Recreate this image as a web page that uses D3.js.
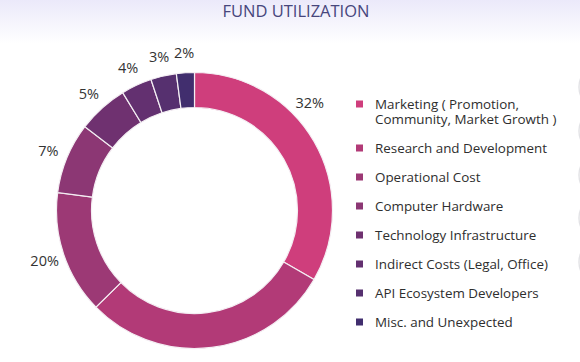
<!DOCTYPE html>
<html>
<head>
<meta charset="utf-8">
<script src="https://cdn.jsdelivr.net/npm/d3@7"></script>
<style>
  html, body { margin: 0; padding: 0; background: #fff; }
  svg { display: block; }
</style>
</head>
<body>
<svg id="chart" width="580" height="362"></svg>
<script>
// ---- data ----
const categories = [
  "Marketing ( Promotion, Community, Market Growth )",
  "Research and Development",
  "Operational Cost",
  "Computer Hardware",
  "Technology Infrastructure",
  "Indirect Costs (Legal, Office)",
  "API Ecosystem Developers",
  "Misc. and Unexpected"
];
// arc shares as drawn in the picture
const values = [33.3, 29.3, 14.4, 8.3, 5.9, 3.6, 3.0, 2.1];
// percentage labels as printed
const pctLabels = ["32%", "27%", "20%", "7%", "5%", "4%", "3%", "2%"];
const colors = ["#cf3e7c", "#b23a77", "#9c3975", "#8c3774", "#6f3170", "#633070", "#56306f", "#412e6e"];
const legendLines = [
  ["Marketing ( Promotion,", "Community, Market Growth )"],
  ["Research and Development"],
  ["Operational Cost"],
  ["Computer Hardware"],
  ["Technology Infrastructure"],
  ["Indirect Costs (Legal, Office)"],
  ["API Ecosystem Developers"],
  ["Misc. and Unexpected"]
];
const title = "FUND UTILIZATION";

// ---- layout ----
const W = 580, H = 362;
const cx = 194.5, cy = 210.5, rOuter = 138, rInner = 103, rLabel = 158;
const chartRight = 324;
const legendX = 356, legendTextX = 375, legendTop = 103.5, legendStep = 29, legendLineH = 15;

const svg = d3.select("#chart");

// background gradient
const defs = svg.append("defs");
const grad = defs.append("linearGradient").attr("id", "bg").attr("x1", 0).attr("y1", 0).attr("x2", 0).attr("y2", 1);
grad.append("stop").attr("offset", "0%").attr("stop-color", "#ebe9fa");
grad.append("stop").attr("offset", "100%").attr("stop-color", "#ffffff");
svg.append("rect").attr("x", 0).attr("y", 0).attr("width", W).attr("height", 44).attr("fill", "url(#bg)");

// decorative circles at right edge
const deco = [87, 131, 175, 218, 262];
svg.selectAll("circle.deco").data(deco).enter().append("circle")
  .attr("class", "deco")
  .attr("cx", 601).attr("cy", d => d).attr("r", 22)
  .attr("fill", "#fff").attr("stroke", "#e3e3e6").attr("stroke-width", 1.5);

// title
svg.append("text")
  .attr("x", 296).attr("y", 17)
  .attr("text-anchor", "middle")
  .attr("font-family", "'Open Sans', sans-serif")
  .attr("font-size", 16.5)
  .attr("fill", "#47467c")
  .text(title);

// donut
const pie = d3.pie().sort(null).value(d => d)
  .startAngle(0).endAngle(2 * Math.PI);
const arcs = pie(values);
const arc = d3.arc().innerRadius(rInner).outerRadius(rOuter);
const labelArc = d3.arc().innerRadius(rLabel).outerRadius(rLabel);

const g = svg.append("g").attr("transform", `translate(${cx},${cy})`);
g.selectAll("path").data(arcs).enter().append("path")
  .attr("d", arc)
  .attr("fill", (d, i) => colors[i])
  .attr("stroke", "#f4eef3")
  .attr("stroke-width", 1.2);

// labels
const lbl = g.selectAll("text.pct").data(arcs).enter().append("text")
  .attr("class", "pct")
  .attr("text-anchor", "middle")
  .attr("dominant-baseline", "central")
  .attr("font-family", "'Open Sans', sans-serif")
  .attr("font-size", 14.5)
  .attr("fill", "#333")
  .text((d, i) => pctLabels[i]);

lbl.each(function(d) {
  const el = d3.select(this);
  const w = this.getComputedTextLength();
  let [x, y] = labelArc.centroid(d);
  const maxX = chartRight - cx - w / 2;
  if (x > maxX) {
    x = maxX;
    const s = y < 0 ? -1 : 1;
    y = s * Math.sqrt(Math.max(0, rLabel * rLabel - x * x));
  }
  el.attr("x", x).attr("y", y);
});

// legend
const leg = svg.append("g");
categories.forEach((c, i) => {
  const extra = i > 0 ? legendLineH : 0;
  const y0 = legendTop + i * legendStep + extra;
  leg.append("rect")
    .attr("x", legendX).attr("y", y0 - 3)
    .attr("width", 7).attr("height", 7)
    .attr("fill", colors[i]);
  const t = leg.append("text")
    .attr("font-family", "'Open Sans', sans-serif")
    .attr("font-size", 13.4)
    .attr("fill", "#2e2e2e");
  legendLines[i].forEach((line, j) => {
    t.append("tspan")
      .attr("x", legendTextX)
      .attr("y", y0 + j * legendLineH)
      .attr("dominant-baseline", "central")
      .text(line);
  });
});
</script>
</body>
</html>
